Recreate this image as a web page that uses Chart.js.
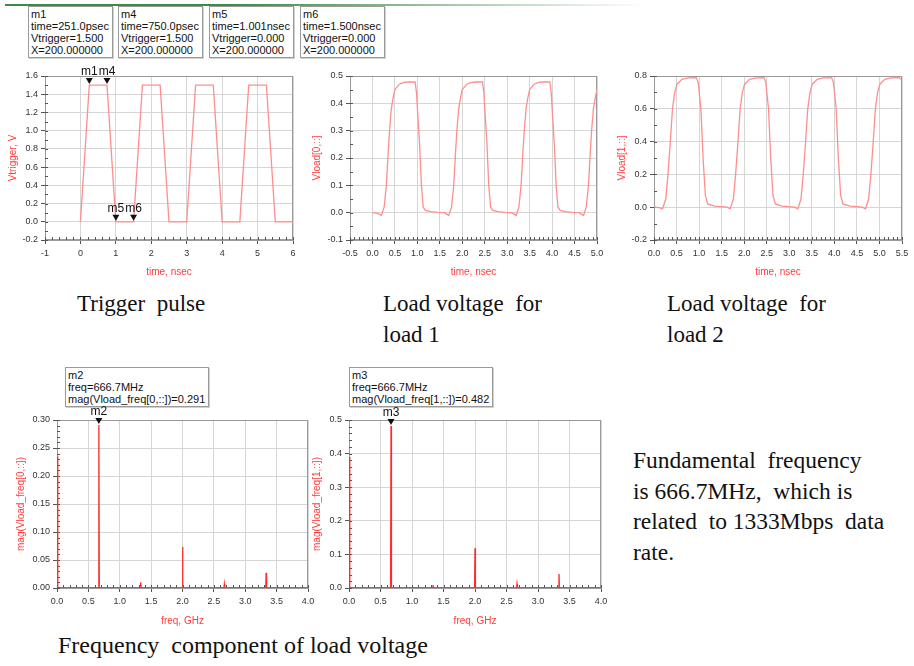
<!DOCTYPE html>
<html lang="en">
<head>
    <meta charset="UTF-8">
    <title>Trigger pulse and load voltage</title>
    <script src="https://cdn.jsdelivr.net/npm/chart.js"></script>
    <style>
        body { margin: 0; background: #fff; }
        #page { position: relative; width: 914px; height: 666px; overflow: hidden; }
        .plot { position: absolute; }
        .mbox {
            position: absolute;
            font-family: Arial, sans-serif;
            font-size: 11px;
            line-height: 12px;
            color: #111;
            border: 1px solid #9a9a9a;
            box-shadow: 1px 1px 0 #d0d0d0;
            padding: 1px 3px 1px 2px;
            white-space: pre;
            background: #fff;
        }
        .cap {
            position: absolute;
            font-family: "Liberation Serif", "Times New Roman", serif;
            font-size: 23px;
            line-height: 31px;
            color: #111;
            white-space: pre;
        }
        #topline {
            position: absolute; left: 5px; top: 4px; width: 640px; height: 2px;
            background: linear-gradient(to right, #3b8a45 0%, #3b8a45 35%, rgba(59,138,69,0) 100%);
        }
    </style>
</head>
<body>
<div id="page">
    <div id="topline"></div>
    <div class="mbox" style="left:28px; top:6px;">m1
time=251.0psec
Vtrigger=1.500
X=200.000000</div>
    <div class="mbox" style="left:118px; top:6px;">m4
time=750.0psec
Vtrigger=1.500
X=200.000000</div>
    <div class="mbox" style="left:209px; top:6px;">m5
time=1.001nsec
Vtrigger=0.000
X=200.000000</div>
    <div class="mbox" style="left:300px; top:6px;">m6
time=1.500nsec
Vtrigger=0.000
X=200.000000</div>

    <div class="plot" style="left:0px; top:60px; width:300px; height:222px;"><canvas id="trig"></canvas></div>
    <div class="plot" style="left:305px; top:60px; width:300px; height:222px;"><canvas id="load1"></canvas></div>
    <div class="plot" style="left:610px; top:60px; width:300px; height:222px;"><canvas id="load2"></canvas></div>

    <div class="cap" style="left:77px; top:288px;">Trigger  pulse</div>
    <div class="cap" style="left:383px; top:288px;">Load voltage  for
load 1</div>
    <div class="cap" style="left:667px; top:288px;">Load voltage  for
load 2</div>

    <div class="mbox" style="left:65px; top:367px;">m2
freq=666.7MHz
mag(Vload_freq[0,::])=0.291</div>
    <div class="mbox" style="left:349px; top:367px;">m3
freq=666.7MHz
mag(Vload_freq[1,::])=0.482</div>

    <div class="plot" style="left:0px; top:400px; width:315px; height:230px;"><canvas id="spec1"></canvas></div>
    <div class="plot" style="left:310px; top:400px; width:298px; height:230px;"><canvas id="spec2"></canvas></div>

    <div class="cap" style="left:633px; top:445px; font-size:23.5px; line-height:30.5px;">Fundamental  frequency
is 666.7MHz,  which is
related  to 1333Mbps  data
rate.</div>
    <div class="cap" style="left:58px; top:630px; font-size:24px; line-height:30px;">Frequency  component of load voltage</div>
</div>

<script>
    // trigger pulse (time in nsec, volts)
    const trigT = [0, 0.25, 0.75, 1.0, 1.5, 1.75, 2.25, 2.5, 3.0, 3.25, 3.75, 4.0, 4.5, 4.75, 5.25, 5.5, 6.0];
    const trigV = [0, 1.5, 1.5, 0, 0, 1.5, 1.5, 0, 0, 1.5, 1.5, 0, 0, 1.5, 1.5, 0, 0];

    // Vload[0,::]
    const load1T = [0.00, 0.10, 0.20, 0.26, 0.31, 0.35, 0.38, 0.42, 0.46, 0.50, 0.60, 0.70, 0.80, 0.95, 0.98,
        1.02, 1.05, 1.09, 1.13, 1.18, 1.30, 1.45, 1.60, 1.70, 1.76, 1.81, 1.85, 1.88, 1.92, 1.96, 2.00,
        2.10, 2.20, 2.30, 2.45, 2.48, 2.52, 2.55, 2.59, 2.63, 2.68, 2.80, 2.95, 3.10, 3.20, 3.26, 3.31,
        3.35, 3.38, 3.42, 3.46, 3.50, 3.60, 3.70, 3.80, 3.95, 3.98, 4.02, 4.05, 4.09, 4.13, 4.18, 4.30,
        4.45, 4.60, 4.70, 4.76, 4.81, 4.85, 4.88, 4.92, 4.96, 5.00];
    const load1V = [0.000, -0.002, -0.010, 0.020, 0.100, 0.220, 0.300, 0.380, 0.420, 0.450, 0.470, 0.477, 0.478, 0.478, 0.440,
        0.330, 0.250, 0.100, 0.020, 0.008, 0.004, 0.001, 0.000, -0.010, 0.020, 0.100, 0.220, 0.300, 0.380, 0.420, 0.450,
        0.470, 0.477, 0.478, 0.478, 0.440, 0.330, 0.250, 0.100, 0.020, 0.008, 0.004, 0.001, 0.000, -0.010, 0.020, 0.100,
        0.220, 0.300, 0.380, 0.420, 0.450, 0.470, 0.477, 0.478, 0.478, 0.440, 0.330, 0.250, 0.100, 0.020, 0.008, 0.004,
        0.001, 0.000, -0.010, 0.020, 0.100, 0.220, 0.300, 0.380, 0.420, 0.450];

    // Vload[1,::]
    const load2T = [0.00, 0.12, 0.19, 0.26, 0.31, 0.36, 0.41, 0.46, 0.51, 0.62, 0.76, 0.94, 0.98, 1.04, 1.09,
        1.14, 1.19, 1.34, 1.55, 1.62, 1.69, 1.76, 1.81, 1.86, 1.91, 1.96, 2.01, 2.12, 2.26, 2.44, 2.48,
        2.54, 2.59, 2.64, 2.69, 2.84, 3.05, 3.12, 3.19, 3.26, 3.31, 3.36, 3.41, 3.46, 3.51, 3.62, 3.76,
        3.94, 3.98, 4.04, 4.09, 4.14, 4.19, 4.34, 4.55, 4.62, 4.69, 4.76, 4.81, 4.86, 4.91, 4.96, 5.01,
        5.12, 5.26, 5.44, 5.50];
    const load2V = [0.000, -0.003, -0.010, 0.050, 0.200, 0.390, 0.600, 0.700, 0.750, 0.780, 0.788, 0.790, 0.760, 0.600, 0.290,
        0.070, 0.020, 0.006, 0.002, 0.000, -0.010, 0.050, 0.200, 0.390, 0.600, 0.700, 0.750, 0.780, 0.788, 0.790, 0.760,
        0.600, 0.290, 0.070, 0.020, 0.006, 0.002, 0.000, -0.010, 0.050, 0.200, 0.390, 0.600, 0.700, 0.750, 0.780, 0.788,
        0.790, 0.760, 0.600, 0.290, 0.070, 0.020, 0.006, 0.002, 0.000, -0.010, 0.050, 0.200, 0.390, 0.600, 0.700, 0.750,
        0.780, 0.788, 0.790, 0.770];

    // spectra (freq in GHz)
    const freqG = [0, 0.012, 0.66, 0.667, 0.674, 1.326, 1.333, 1.34, 1.993, 2.0, 2.007, 2.66, 2.667, 2.674, 3.326, 3.333, 3.34, 4.0];
    const mag1 = [0.235, 0, 0, 0.291, 0, 0, 0.010, 0, 0, 0.073, 0, 0, 0.007, 0, 0, 0.027, 0, 0];
    const mag2 = [0.390, 0, 0, 0.482, 0, 0, 0.009, 0, 0, 0.118, 0, 0, 0.012, 0, 0, 0.042, 0, 0];

    // markers
    const trigMkName = ['m1', 'm4', 'm5', 'm6'];
    const trigMkT = [0.251, 0.75, 1.001, 1.5];
    const trigMkV = [1.5, 1.5, 0.0, 0.0];
    const specMkF = 0.6667;

    const tickFont = { family: 'Arial', size: 9 };
    const titleFont = { family: 'Arial', size: 10 };

    // frame around plot area + small inner minor ticks
    const framePlugin = {
        id: 'frame',
        beforeDatasetsDraw(chart, args, opts) {
            const { ctx, chartArea: a, scales } = chart;
            ctx.save();
            ctx.strokeStyle = '#9a9a9a';
            ctx.lineWidth = 1;
            ctx.strokeRect(a.left + 0.5, a.top + 0.5, a.right - a.left - 1, a.bottom - a.top - 1);
            ctx.strokeStyle = '#555';
            const xs = scales.x, ys = scales.y;
            const xo = xs.options, yo = ys.options;
            const dx = xo.ticks.stepSize / opts.minorX;
            for (let v = xo.min; v <= xo.max + 1e-9; v += dx) {
                const px = Math.round(xs.getPixelForValue(v)) + 0.5;
                ctx.beginPath(); ctx.moveTo(px, a.bottom); ctx.lineTo(px, a.bottom - 3); ctx.stroke();
            }
            const dy = yo.ticks.stepSize / opts.minorY;
            for (let v = yo.min; v <= yo.max + 1e-9; v += dy) {
                const py = Math.round(ys.getPixelForValue(v)) + 0.5;
                ctx.beginPath(); ctx.moveTo(a.left, py); ctx.lineTo(a.left + 3, py); ctx.stroke();
            }
            ctx.restore();
        }
    };

    // ADS style marker: triangle pointing at the data point with its name above
    const markerPlugin = {
        id: 'mk',
        afterDatasetsDraw(chart, args, opts) {
            if (!opts.names) return;
            const { ctx, scales } = chart;
            ctx.save();
            ctx.fillStyle = '#111';
            ctx.font = '12px Arial';
            ctx.textAlign = 'center';
            ctx.textBaseline = 'bottom';
            opts.names.forEach((n, i) => {
                const px = scales.x.getPixelForValue(opts.xs[i]);
                const py = scales.y.getPixelForValue(opts.ys[i]);
                ctx.beginPath();
                ctx.moveTo(px - 3.5, py - 7);
                ctx.lineTo(px + 3.5, py - 7);
                ctx.lineTo(px, py - 1);
                ctx.closePath();
                ctx.fill();
                ctx.fillText(n, px, py - 7);
            });
            ctx.restore();
        }
    };

    function fmt(d) {
        return v => (Math.abs(v) < 1e-9 ? 0 : v).toFixed(d);
    }

    function makeChart(id, c) {
        const pts = c.xv.map((x, i) => ({ x: x, y: c.yv[i] }));
        return new Chart(document.getElementById(id), {
            type: 'line',
            data: {
                datasets: [{
                    data: pts,
                    borderColor: c.color,
                    borderWidth: c.lw,
                    pointRadius: 0,
                    tension: 0,
                    fill: false
                }]
            },
            options: {
                responsive: true,
                maintainAspectRatio: false,
                animation: false,
                events: [],
                layout: { padding: { top: c.padTop, right: c.padRight, bottom: 0, left: 0 } },
                plugins: {
                    legend: { display: false },
                    tooltip: { enabled: false },
                    frame: { minorX: c.minorX, minorY: c.minorY },
                    mk: c.markers || {}
                },
                scales: {
                    x: {
                        type: 'linear', min: c.xMin, max: c.xMax,
                        ticks: { stepSize: c.xStep, callback: fmt(c.xDec), font: tickFont, color: '#333', maxRotation: 0, autoSkip: false, padding: 4 },
                        grid: { color: '#d6d6d6', tickColor: '#555', tickLength: 4 },
                        border: { color: '#9a9a9a' },
                        title: { display: true, text: c.xTitle, color: '#ff3b3b', font: titleFont, padding: { top: 2, bottom: c.xTitlePad } },
                        afterFit: s => { s.height = 42; s.paddingLeft = 0; s.paddingRight = 0; }
                    },
                    y: {
                        type: 'linear', min: c.yMin, max: c.yMax,
                        ticks: { stepSize: c.yStep, callback: fmt(c.yDec), font: tickFont, color: '#333', autoSkip: false, padding: 3 },
                        grid: { color: '#d6d6d6', tickColor: '#555', tickLength: 4 },
                        border: { color: '#9a9a9a' },
                        title: { display: true, text: c.yTitle, color: '#ff3b3b', font: titleFont, padding: { top: c.yTitlePad, bottom: 0 } },
                        afterFit: s => { s.width = c.yWidth; }
                    }
                }
            },
            plugins: [framePlugin, markerPlugin]
        });
    }

    const waveColor = '#ff8e8e';
    const specColor = '#ff2b2b';

    makeChart('trig', {
        xv: trigT, yv: trigV, color: waveColor, lw: 1.3,
        xMin: -1, xMax: 6, xStep: 1, xDec: 0, yMin: -0.2, yMax: 1.6, yStep: 0.2, yDec: 1,
        xTitle: 'time, nsec', yTitle: 'Vtrigger, V', yWidth: 45, padTop: 16, padRight: 7,
        xTitlePad: 4, yTitlePad: 7, minorX: 5, minorY: 2,
        markers: { names: trigMkName, xs: trigMkT, ys: trigMkV }
    });

    makeChart('load1', {
        xv: load1T, yv: load1V, color: waveColor, lw: 1.3,
        xMin: -0.5, xMax: 5.0, xStep: 0.5, xDec: 1, yMin: -0.1, yMax: 0.5, yStep: 0.1, yDec: 1,
        xTitle: 'time, nsec', yTitle: 'Vload[0,::]', yWidth: 45, padTop: 16, padRight: 8,
        xTitlePad: 4, yTitlePad: 6, minorX: 5, minorY: 2
    });

    makeChart('load2', {
        xv: load2T, yv: load2V, color: waveColor, lw: 1.3,
        xMin: 0, xMax: 5.5, xStep: 0.5, xDec: 1, yMin: -0.2, yMax: 0.8, yStep: 0.2, yDec: 1,
        xTitle: 'time, nsec', yTitle: 'Vload[1,::]', yWidth: 44, padTop: 16, padRight: 8,
        xTitlePad: 4, yTitlePad: 6, minorX: 5, minorY: 2
    });

    makeChart('spec1', {
        xv: freqG, yv: mag1, color: specColor, lw: 1.3,
        xMin: 0, xMax: 4.0, xStep: 0.5, xDec: 1, yMin: 0, yMax: 0.30, yStep: 0.05, yDec: 2,
        xTitle: 'freq, GHz', yTitle: 'mag(Vload_freq[0,::])', yWidth: 57, padTop: 20, padRight: 7,
        xTitlePad: 3, yTitlePad: 15, minorX: 5, minorY: 5,
        markers: { names: ['m2'], xs: [specMkF], ys: [mag1[3]] }
    });

    makeChart('spec2', {
        xv: freqG, yv: mag2, color: specColor, lw: 1.3,
        xMin: 0, xMax: 4.0, xStep: 0.5, xDec: 1, yMin: 0, yMax: 0.5, yStep: 0.1, yDec: 1,
        xTitle: 'freq, GHz', yTitle: 'mag(Vload_freq[1,::])', yWidth: 39, padTop: 20, padRight: 7,
        xTitlePad: 3, yTitlePad: 1, minorX: 5, minorY: 5,
        markers: { names: ['m3'], xs: [specMkF], ys: [mag2[3]] }
    });
</script>
</body>
</html>
